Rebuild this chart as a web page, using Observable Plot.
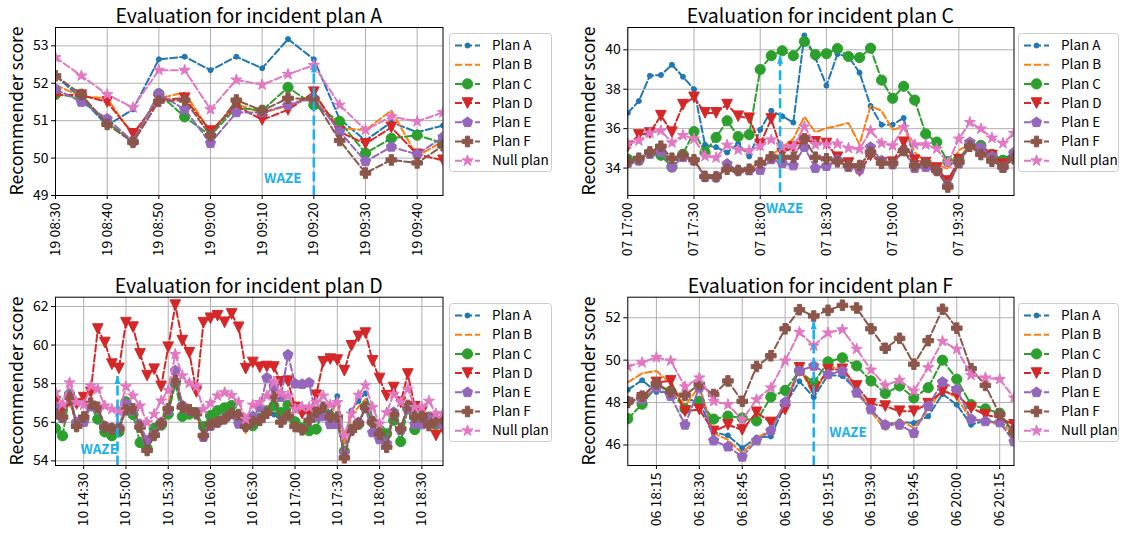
<!DOCTYPE html>
<html><head><meta charset="utf-8">
<script src="https://cdn.jsdelivr.net/npm/d3@7"></script>
<script src="https://cdn.jsdelivr.net/npm/@observablehq/plot@0.6"></script>
<style>
body{margin:0;background:#fff;font-family:"Noto Sans CJK KR","Noto Sans",sans-serif;}
#root{position:relative;width:1123px;height:535px;overflow:hidden;background:#fff;}
.abs{position:absolute;}
.title{position:absolute;font-size:19.5px;line-height:normal;color:#000;white-space:nowrap;transform:translateX(-50%);}
.ylab{position:absolute;font-size:17.7px;line-height:normal;color:#000;white-space:nowrap;transform:translate(-50%,-50%) rotate(-90deg);}
</style></head><body><div id="root"></div><script>
// ---------- series meta ----------
const seriesNames = ["Plan A","Plan B","Plan C","Plan D","Plan E","Plan F","Null plan"];
const seriesColors = ["#1f77b4","#ff7f0e","#2ca02c","#d62728","#9467bd","#8c564b","#e377c2"];
const wazeColor = "#1cb1ea";

// ---------- Panel A (day 19) ----------
const timesA = "08:30 08:35 08:40 08:45 08:50 08:55 09:00 09:05 09:10 09:15 09:20 09:25 09:30 09:35 09:40 09:45".split(" ");
const xTicksA = ["08:30","08:40","08:50","09:00","09:10","09:20","09:30","09:40"];
const yTicksA = [49,50,51,52,53];
const aA = [52.2,51.6,50.87,51.3,52.64,52.71,52.35,52.71,52.4,53.18,52.64,51.04,50.47,50.96,50.69,50.87];
const aB = [51.95,51.65,51.6,50.6,51.6,51.75,50.7,51.45,51.2,51.4,51.7,50.8,50.75,51.27,50.05,50.45];
const aC = [51.7,51.62,50.95,50.45,51.72,51.1,50.6,51.35,51.27,51.89,51.42,50.98,50.13,50.53,50.61,50.4];
const aD = [51.7,51.68,51.5,50.65,51.55,51.6,50.72,51.4,51.02,51.29,51.76,50.7,50.38,50.82,50.1,49.94];
const aE = [51.85,51.5,51.05,50.45,51.72,51.3,50.4,51.22,51.22,51.42,51.6,50.71,49.91,50.3,50.1,50.56];
const aF = [52.2,51.7,50.9,50.42,51.52,51.55,50.6,51.55,51.27,51.6,51.58,50.47,49.6,49.95,49.87,50.33];
const aN = [52.69,52.2,51.7,51.35,52.35,52.35,51.3,52.09,51.96,52.24,52.48,51.42,50.75,51.11,50.98,51.22];

// ---------- Panel C (day 07) ----------
const timesC = "17:00 17:05 17:10 17:15 17:20 17:25 17:30 17:35 17:40 17:45 17:50 17:55 18:00 18:05 18:10 18:15 18:20 18:25 18:30 18:35 18:40 18:45 18:50 18:55 19:00 19:05 19:10 19:15 19:20 19:25 19:30 19:35 19:40 19:45 19:50 19:55".split(" ");
const xTicksC = ["17:00","17:30","18:00","18:30","19:00","19:30"];
const yTicksC = [34,36,38,40];
const cA = [36.8,37.4,38.68,38.72,39.24,38.63,38.0,35.18,35.06,34.79,35.23,34.59,35.94,36.91,36.63,36.31,40.73,39.6,38.18,39.78,39.66,38.84,37.15,36.2,36.2,36.54,34.3,34.1,33.75,33.45,34.2,35.2,35.0,34.7,34.42,34.8];
const cB = [34.3,34.5,34.8,34.95,34.35,34.6,34.4,33.6,33.6,33.95,33.9,34.0,34.3,34.64,35.06,35.48,36.6,35.82,36.03,36.14,36.29,35.2,37.15,36.9,35.95,36.1,34.8,34.3,34.2,33.96,34.9,35.2,34.7,34.4,34.2,34.6];
const cC = [34.45,34.4,34.75,34.65,34.05,34.7,35.85,34.8,35.55,36.4,35.6,35.7,39.0,39.7,39.95,39.7,40.42,39.75,39.8,40.06,39.66,39.6,40.08,38.46,37.54,38.15,37.45,35.73,35.32,34.33,34.45,35.2,35.15,34.7,34.4,34.6];
const cD = [35.1,35.68,35.78,36.66,35.82,37.22,37.59,36.8,36.8,37.22,36.63,36.53,35.2,36.49,34.75,35.07,35.4,35.33,35.25,34.55,34.25,33.85,34.64,34.27,34.3,35.31,34.4,34.28,34.0,33.34,34.43,35.14,34.72,34.64,34.2,34.55];
const cE = [34.25,34.38,34.72,34.82,34.05,34.55,34.38,33.54,33.54,34.21,33.88,33.88,33.9,34.44,34.25,34.13,35.06,34.0,34.1,34.42,34.05,33.92,35.06,34.38,34.18,34.89,34.0,34.05,33.88,33.12,34.22,35.31,35.06,34.59,34.0,34.8];
const cF = [34.34,34.5,34.82,35.11,34.5,34.65,34.42,33.58,33.56,33.94,33.88,33.94,34.26,34.57,34.55,34.55,35.49,34.55,34.47,34.32,34.13,34.13,34.8,34.25,34.25,34.89,34.13,34.27,33.88,33.04,34.3,35.11,34.69,34.35,34.05,34.47];
const cN = [35.23,35.39,35.78,35.9,35.29,35.66,35.48,34.6,34.53,35.17,34.93,34.89,35.12,35.44,35.06,35.1,36.1,35.19,35.19,35.23,35.01,34.96,35.9,35.26,35.14,36.07,35.19,35.19,34.98,34.25,35.48,36.32,35.99,35.53,35.26,35.77];

// ---------- Panel D (day 10) ----------
const timesD = "14:10 14:15 14:20 14:25 14:30 14:35 14:40 14:45 14:50 14:55 15:00 15:05 15:10 15:15 15:20 15:25 15:30 15:35 15:40 15:45 15:50 15:55 16:00 16:05 16:10 16:15 16:20 16:25 16:30 16:35 16:40 16:45 16:50 16:55 17:00 17:05 17:10 17:15 17:20 17:25 17:30 17:35 17:40 17:45 17:50 17:55 18:00 18:05 18:10 18:15 18:20 18:25 18:30 18:35 18:40 18:45".split(" ");
const xTicksD = ["14:30","15:00","15:30","16:00","16:30","17:00","17:30","18:00","18:30"];
const yTicksD = [54,56,58,60,62];
const dA = [56.5,56.3,57.2,55.9,56.2,56.9,56.6,55.75,55.6,55.6,56.7,56.6,55.7,54.8,55.4,56.0,56.8,58.2,56.9,56.6,56.5,55.4,56.0,56.2,56.3,56.5,56.3,55.9,56.1,56.2,56.4,56.4,56.1,56.4,55.9,55.8,56.2,56.6,56.9,56.5,57.35,55.0,56.6,57.1,57.5,56.2,55.5,55.0,56.5,55.7,56.8,56.3,56.4,55.9,56.2,56.2];
const dB = [56.6,56.2,57.1,55.9,56.1,56.9,56.6,55.7,55.6,55.6,56.7,56.5,55.6,54.7,55.4,56.1,56.9,58.4,56.9,56.5,56.4,55.3,55.9,56.1,56.2,56.3,56.0,55.45,56.0,56.2,56.6,57.0,56.1,56.3,55.8,55.7,56.1,56.5,56.8,56.3,57.1,54.9,56.3,56.8,57.2,56.0,55.3,54.9,56.6,55.6,56.7,56.2,56.2,55.9,56.0,56.1];
const dC = [55.68,55.3,57.46,55.9,56.1,56.85,56.16,55.5,55.3,55.5,57.06,56.4,54.95,54.65,55.68,55.85,56.42,58.0,56.3,56.42,56.5,55.78,56.35,56.6,56.75,56.87,56.2,55.82,55.82,56.2,56.59,56.85,56.5,56.89,56.02,55.7,55.56,55.64,56.59,56.3,56.1,54.5,55.64,55.9,56.8,56.0,55.61,55.4,56.1,55.0,56.7,55.62,56.3,56.27,55.9,56.1];
const dD = [57.05,56.6,57.1,56.95,57.28,57.55,60.83,60.13,59.01,58.79,61.16,60.93,59.54,58.42,58.75,57.86,59.89,62.07,60.23,59.6,57.57,61.16,61.39,61.52,61.18,61.61,60.92,58.78,59.1,58.85,58.89,58.86,58.1,58.13,56.77,56.45,56.5,57.4,59.13,59.27,59.22,58.67,59.96,60.45,60.62,59.18,58.27,57.37,57.8,57.03,58.5,56.8,56.53,56.18,55.32,55.66];
const dE = [56.78,56.2,57.44,56.0,56.0,56.85,56.7,55.8,55.7,55.75,56.96,56.6,55.9,55.06,55.4,56.0,56.6,58.68,56.87,56.6,56.5,55.23,55.8,56.0,56.2,56.4,55.92,55.85,56.3,56.75,58.3,57.85,57.3,59.5,58.0,57.98,58.05,56.27,56.3,55.89,55.9,54.4,55.6,56.0,56.7,55.47,55.11,54.9,56.52,55.6,56.7,55.9,55.89,56.2,56.0,55.89];
const dF = [56.44,56.27,57.3,55.78,56.27,56.99,56.78,55.75,55.66,55.66,56.65,56.7,55.75,54.54,55.32,55.92,56.7,58.17,56.78,56.65,56.44,55.32,55.89,56.01,56.18,56.47,56.4,55.8,56.04,56.1,56.47,57.34,56.01,56.35,55.78,55.61,56.1,56.53,56.78,56.27,56.27,54.16,55.58,55.92,56.78,56.01,55.4,54.71,56.4,55.66,56.87,56.27,56.27,55.83,56.1,56.18];
const dN = [57.55,56.94,58.05,57.03,56.9,57.89,57.72,56.85,56.68,56.54,57.85,57.37,56.85,55.99,56.42,57.11,57.66,59.53,58.41,58.03,57.85,56.68,56.99,57.37,57.54,57.4,57.03,56.16,56.9,57.03,57.37,58.1,57.5,57.37,56.68,56.8,56.77,57.03,57.37,56.9,57.03,55.3,56.44,57.41,57.92,56.78,55.92,56.5,57.46,57.04,57.72,56.78,56.78,57.1,56.44,56.47];

// ---------- Panel F (day 06) ----------
const timesF = "18:05 18:10 18:15 18:20 18:25 18:30 18:35 18:40 18:45 18:50 18:55 19:00 19:05 19:10 19:15 19:20 19:25 19:30 19:35 19:40 19:45 19:50 19:55 20:00 20:05 20:10 20:15 20:20".split(" ");
const xTicksF = ["18:15","18:30","18:45","19:00","19:15","19:30","19:45","20:00","20:15"];
const yTicksF = [46,48,50,52];
const fA = [48.6,49.05,48.5,48.5,48.2,48.0,46.6,46.45,45.85,46.35,46.4,47.9,49.0,48.25,49.3,49.25,48.6,47.67,46.95,47.11,47.03,47.35,48.4,47.9,46.95,47.15,47.03,46.8];
const fB = [48.95,49.38,49.49,48.9,47.83,48.78,46.56,46.24,45.6,46.32,46.71,48.02,49.62,48.4,49.57,49.73,48.62,47.59,46.71,47.19,46.79,47.67,48.62,48.22,47.19,47.11,46.95,46.64];
const fC = [47.24,47.92,48.75,48.55,47.7,48.06,47.22,47.36,47.27,47.13,48.26,48.57,49.5,48.93,49.92,50.11,49.73,49.02,48.43,48.78,48.22,48.7,50.0,49.1,47.9,47.7,47.5,46.56];
const fD = [47.98,48.22,48.95,49.02,47.59,47.67,46.64,46.95,46.71,47.54,47.06,47.67,49.64,48.55,49.55,49.57,48.78,47.94,47.83,47.59,47.59,47.95,48.54,48.35,47.75,47.43,47.27,46.95];
const fE = [48.06,48.15,48.7,48.3,46.95,48.7,46.21,45.92,45.44,46.21,46.68,48.02,49.49,49.73,49.33,49.49,48.46,47.67,46.95,46.95,46.56,47.83,48.97,48.62,47.22,47.11,47.06,46.16];
const fF = [48.02,48.3,48.9,48.51,48.35,48.86,48.38,49.02,48.06,49.7,50.21,51.48,52.38,52.08,52.35,52.59,52.46,51.48,50.56,51.03,49.81,50.92,52.4,51.51,49.6,48.81,47.43,46.59];
const fN = [49.7,49.89,50.13,49.97,48.75,49.17,48.06,47.9,47.19,48.14,48.7,49.97,51.32,50.68,51.29,51.44,50.52,49.54,48.81,49.06,48.54,49.65,50.89,50.52,49.29,49.17,49.1,48.22];

// ---------- WAZE annotations: [time, arrow bottom, arrow tip] and [text time, text value] ----------
const arrowA = ["09:20", 49.0, 52.5],  textA = ["09:14", 49.44];
const arrowC = ["18:09", 32.78, 39.7], textC = ["18:11", 31.95];
const arrowD = ["14:54", 53.76, 58.4], textD = ["14:41", 54.57];
const arrowF = ["19:10", 45.03, 51.83], textF = ["19:22", 46.59];

// ---------- symbols (matplotlib-like) ----------
const rad = s => Math.sqrt(s / Math.PI);
const symCircle = {draw(c, s){const r = rad(s); c.moveTo(r,0); c.arc(0,0,r,0,2*Math.PI);}};
const symTriDown = {draw(c, s){const r = rad(s); c.moveTo(0,r); c.lineTo(-r,-r); c.lineTo(r,-r); c.closePath();}};
const symPentagon = {draw(c, s){const r = rad(s)*1.05; for(let i=0;i<5;i++){const a=-Math.PI/2+i*2*Math.PI/5; const x=r*Math.cos(a), y=r*Math.sin(a); if(i) c.lineTo(x,y); else c.moveTo(x,y);} c.closePath();}};
const symStar = {draw(c, s){const r = rad(s)*1.1, ri = r*0.381966; for(let i=0;i<10;i++){const a=-Math.PI/2+i*Math.PI/5; const rr = i%2 ? ri : r; const x=rr*Math.cos(a), y=rr*Math.sin(a); if(i) c.lineTo(x,y); else c.moveTo(x,y);} c.closePath();}};
const symPlus = {draw(c, s){const r = rad(s), w = r*0.4; const p=[[-r,-w],[-r,w],[-w,w],[-w,r],[w,r],[w,w],[r,w],[r,-w],[w,-w],[w,-r],[-w,-r],[-w,-w]]; p.forEach((q,i)=> i? c.lineTo(q[0],q[1]) : c.moveTo(q[0],q[1])); c.closePath();}};
const symArrowHead = {draw(c, s){c.moveTo(0,0); c.lineTo(-3,8); c.lineTo(3,8); c.closePath();}};
const seriesMarkers = [
  {symbol: symCircle, r: 2.5},
  null,
  {symbol: symCircle, r: 5.1},
  {symbol: symTriDown, r: 5.3},
  {symbol: symPentagon, r: 5.1},
  {symbol: symPlus, r: 5.3},
  {symbol: symStar, r: 5.3}
];

function toDate(day, hm){const [h,m] = hm.split(":").map(Number); return new Date(Date.UTC(2019,0,day,h,m));}

const FONT = '"Noto Sans CJK KR","Noto Sans",sans-serif';
const root = document.getElementById("root");

function drawPanel(p){
  const X = t => toDate(p.day, t);
  const grid = {stroke:"#b0b0b0", strokeOpacity:1, strokeWidth:1};
  const marks = [
    Plot.gridX(p.xTicks.map(X), grid),
    Plot.gridY(p.yTicks, grid)
  ];
  p.series.forEach((vals, si) => {
    const data = p.times.map((t, i) => ({t: X(t), v: vals[i]}));
    marks.push(Plot.line(data, {x:"t", y:"v", stroke: seriesColors[si], strokeWidth: 2, strokeDasharray: "7,3", clip: true}));
    const m = seriesMarkers[si];
    if (m) marks.push(Plot.dot(data, {x:"t", y:"v", symbol: m.symbol, r: m.r, fill: seriesColors[si], stroke: seriesColors[si], strokeWidth: 1, clip: true}));
  });
  const ar = [{t: X(p.arrow[0]), y0: p.arrow[1], y1: p.arrow[2]}];
  marks.push(Plot.link(ar, {x1:"t", x2:"t", y1:"y0", y2:"y1", stroke: wazeColor, strokeWidth: 2.6, strokeDasharray: "10,4"}));
  marks.push(Plot.dot(ar, {x:"t", y:"y1", symbol: symArrowHead, r: 3, fill: wazeColor}));
  marks.push(Plot.text([{t: X(p.text[0]), v: p.text[1]}], {x:"t", y:"v", text: () => "WAZE", fill: wazeColor, fontWeight: "bold", fontSize: 13.5}));
  marks.push(Plot.axisX(p.xTicks.map(X), {tickRotate: -90, tickFormat: d3.utcFormat("%d %H:%M"), tickSize: 4, tickPadding: 3, label: null, fontSize: 14}));
  marks.push(Plot.axisY(p.yTicks, {tickSize: 4, tickPadding: 3, label: null, fontSize: 14}));
  marks.push(Plot.frame({stroke: "#000", strokeWidth: 1}));

  const svg = Plot.plot({
    width: p.width, height: p.height,
    marginLeft: p.ml, marginRight: p.mr, marginTop: p.mt, marginBottom: p.mb,
    x: {type: "utc", domain: [X(p.xDomain[0]), X(p.xDomain[1])]},
    y: {domain: p.yDomain},
    style: {fontFamily: FONT, fontSize: "14px", color: "#000", background: "transparent", overflow: "visible"},
    marks
  });
  const wrap = document.createElement("div");
  wrap.className = "abs";
  wrap.style.left = p.left + "px"; wrap.style.top = p.top + "px";
  wrap.appendChild(svg);
  root.appendChild(wrap);

  // title
  const t = document.createElement("div");
  t.className = "title"; t.textContent = p.title;
  t.style.left = (p.left + p.ml + (p.width - p.ml - p.mr) / 2) + "px";
  t.style.top = (p.top + 0) + "px";
  root.appendChild(t);
  // y label
  const yl = document.createElement("div");
  yl.className = "ylab"; yl.textContent = "Recommender score";
  yl.style.left = (p.left + 15) + "px";
  yl.style.top = (p.top + p.mt + (p.height - p.mt - p.mb) / 2) + "px";
  root.appendChild(yl);

  // legend
  const L = d3.create("svg").attr("width", p.legW).attr("height", 140)
    .style("position","absolute").style("left", p.legX + "px").style("top", (p.top + 33) + "px").style("overflow","visible");
  L.append("rect").attr("x",0.5).attr("y",0.5).attr("width",p.legW-1).attr("height",138).attr("rx",3)
    .attr("fill","#fff").attr("fill-opacity",0.8).attr("stroke","#cccccc");
  seriesNames.forEach((name, si) => {
    const cy = 12.5 + si * 19.2;
    L.append("line").attr("x1",6).attr("x2",31).attr("y1",cy).attr("y2",cy)
      .attr("stroke",seriesColors[si]).attr("stroke-width",2).attr("stroke-dasharray","7,3");
    const m = seriesMarkers[si];
    if (m) L.append("path").attr("transform",`translate(18.5,${cy})`)
      .attr("d", d3.symbol(m.symbol, Math.PI*m.r*m.r)()).attr("fill",seriesColors[si]).attr("stroke",seriesColors[si]).attr("stroke-width",1);
    L.append("text").attr("x",43).attr("y",cy).attr("dy","0.35em").attr("font-size",13.5).attr("font-family",FONT).text(name);
  });
  root.appendChild(L.node());
}

drawPanel({title:"Evaluation for incident plan A", day:19, left:0, top:0, width:445, height:270, ml:55, mr:2.5, mt:27, mb:75,
  xDomain:["08:30","09:45"], yDomain:[49,53.49], xTicks:xTicksA, yTicks:yTicksA, times:timesA,
  series:[aA,aB,aC,aD,aE,aF,aN], arrow:arrowA, text:textA, legX:449, legW:103});
drawPanel({title:"Evaluation for incident plan C", day:7, left:572, top:0, width:444, height:270, ml:55.3, mr:2.5, mt:27, mb:75,
  xDomain:["17:00","19:55"], yDomain:[32.61,41.13], xTicks:xTicksC, yTicks:yTicksC, times:timesC,
  series:[cA,cB,cC,cD,cE,cF,cN], arrow:arrowC, text:textC, legX:1018, legW:101});
drawPanel({title:"Evaluation for incident plan D", day:10, left:0, top:270, width:445, height:265, ml:55, mr:2.5, mt:26.7, mb:70,
  xDomain:["14:10","18:45"], yDomain:[53.76,62.48], xTicks:xTicksD, yTicks:yTicksD, times:timesD,
  series:[dA,dB,dC,dD,dE,dF,dN], arrow:arrowD, text:textD, legX:449, legW:103});
drawPanel({title:"Evaluation for incident plan F", day:6, left:572, top:270, width:444, height:265, ml:55.3, mr:2.5, mt:26.7, mb:70,
  xDomain:["18:05","20:20"], yDomain:[45.03,52.97], xTicks:xTicksF, yTicks:yTicksF, times:timesF,
  series:[fA,fB,fC,fD,fE,fF,fN], arrow:arrowF, text:textF, legX:1018, legW:101});
</script></body></html>
